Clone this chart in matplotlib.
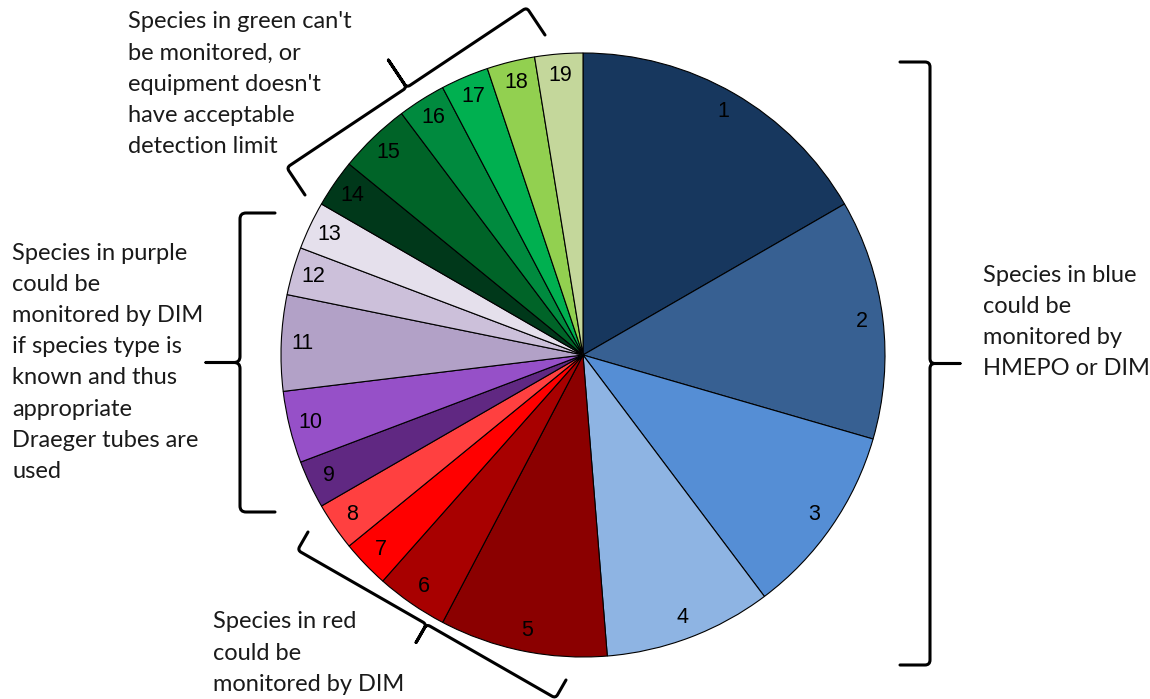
import matplotlib
matplotlib.use("Agg")
import matplotlib.pyplot as plt
import numpy as np
from matplotlib.path import Path
from matplotlib.patches import PathPatch

# ---------------- data ----------------
labels = [str(i) for i in range(1, 20)]
values = [13, 10, 8, 7, 7, 3, 2, 2, 2, 3, 4, 2, 2, 2, 3, 2, 2, 2, 2]
colors = ["#17375E", "#376092", "#558ED5", "#8EB4E3",
          "#8B0000", "#A80000", "#FF0000", "#FF4040",
          "#602882", "#9650C8", "#B2A1C7", "#CCC0DA", "#E5E0EC",
          "#00381A", "#006428", "#008A3E", "#00B050", "#92D050", "#C4D79B"]

green_text = ["Species in green can't", "be monitored, or", "equipment doesn't",
              "have acceptable", "detection limit"]
purple_text = ["Species in purple", "could be", "monitored by DIM", "if species type is",
               "known and thus", "appropriate", "Draeger tubes are", "used"]
red_text = ["Species in red", "could be", "monitored by DIM"]
blue_text = ["Species in blue", "could be", "monitored by", "HMEPO or DIM"]

W, H = 1150, 699
fig = plt.figure(figsize=(W / 100, H / 100), dpi=100)

# ---------------- pie ----------------
cx, cy, R = 583, 355, 302
ax = fig.add_axes([(cx - R) / W, (H - cy - R) / H, 2 * R / W, 2 * R / H])
ax.pie(values, labels=labels, colors=colors, startangle=90, counterclock=False,
       radius=1.0, labeldistance=0.93,
       wedgeprops=dict(edgecolor="black", linewidth=0.8),
       textprops=dict(fontsize=15.5, family="Liberation Sans", color="black",
                      ha="center", va="center"))
for t in ax.texts:
    t.set_horizontalalignment("center")
    t.set_verticalalignment("center")
ax.set_xlim(-1, 1)
ax.set_ylim(-1, 1)
ax.set_aspect("equal")
ax.axis("off")

# ---------------- overlay (pixel coords) ----------------
ov = fig.add_axes([0, 0, 1, 1], facecolor="none")
ov.set_xlim(0, W)
ov.set_ylim(H, 0)
ov.axis("off")


def brace(p1, p2, h, t, r=6, lw=2.2):
    p1 = np.array(p1, float)
    p2 = np.array(p2, float)
    d = p2 - p1
    L = np.hypot(*d)
    u = d / L
    v = np.array([-u[1], u[0]])

    def P(a, b):
        return p1 + a * u + b * v
    verts = [P(0, 0), P(0, h - r), P(0, h), P(r, h),
             P(L / 2 - r, h), P(L / 2, h), P(L / 2, h + r),
             P(L / 2, h + t),
             P(L / 2, h + r), P(L / 2, h), P(L / 2 + r, h),
             P(L - r, h), P(L, h), P(L, h - r), P(L, 0)]
    codes = [Path.MOVETO, Path.LINETO, Path.CURVE3, Path.CURVE3,
             Path.LINETO, Path.CURVE3, Path.CURVE3,
             Path.LINETO,
             Path.LINETO, Path.CURVE3, Path.CURVE3,
             Path.LINETO, Path.CURVE3, Path.CURVE3, Path.LINETO]
    ov.add_patch(PathPatch(Path(verts, codes), fill=False, edgecolor="black",
                           lw=lw, capstyle="round", joinstyle="round"))


# right (blue) brace
brace((900, 665), (900, 62), 30, 30, r=5)
# left (purple) brace
brace((275, 213), (275, 512), 35, 34, r=6)
# green brace
brace((545, 35), (305, 195), 33, 33, r=4)
# red brace
brace((308, 532), (566, 680), 21, 21, r=4)

# ---------------- texts ----------------
tfont = dict(family="Lato", fontsize=17, color="#1A1A1A", va="center", ha="left")
LS = 31.2


def block(lines, x, y0):
    for i, s in enumerate(lines):
        ov.text(x, y0 + i * LS, s, **tfont)


block(green_text, 128, 22)
block(purple_text, 12, 253)
block(red_text, 213, 622)
block(blue_text, 983, 275)

fig.savefig("out.png", dpi=100, facecolor="white")
